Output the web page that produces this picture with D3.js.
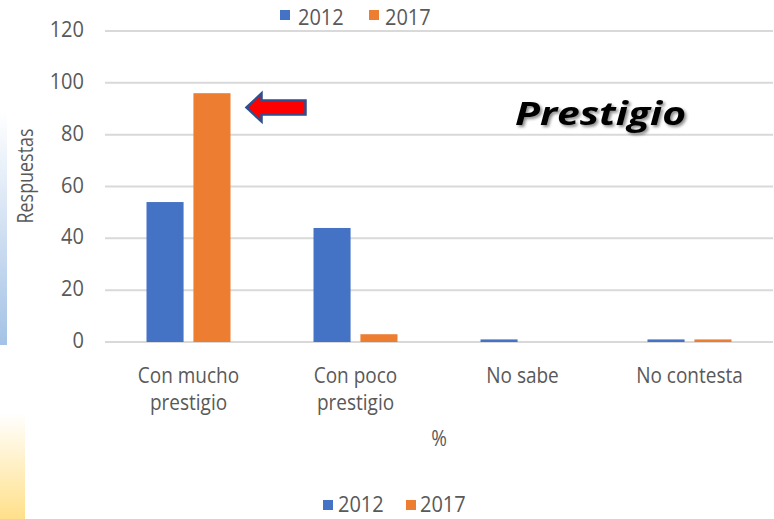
<!DOCTYPE html>
<html><head><meta charset="utf-8">
<script src="https://cdn.jsdelivr.net/npm/d3@7"></script>
<style>body{margin:0;background:#fff}svg{display:block}</style>
</head><body>
<svg id="c" width="774" height="519"></svg>
<script>
const categories = [["Con mucho","prestigio"],["Con poco","prestigio"],["No sabe"],["No contesta"]];
const series = ["2012","2017"];
const values2012 = [54, 44, 1, 1];
const values2017 = [96, 3, 0, 1];
const yTicks = [0,20,40,60,80,100,120];
const colors = ["#4472c4","#ed7d31"];

(function(){
const svg = d3.select("#c");
const defs = svg.append("defs");
const g1 = defs.append("linearGradient").attr("id","gb").attr("x1",0).attr("y1",0).attr("x2",0).attr("y2",1);
g1.append("stop").attr("offset","0%").attr("stop-color","#ffffff");
g1.append("stop").attr("offset","100%").attr("stop-color","#a4c2e6");
const g2 = defs.append("linearGradient").attr("id","gy").attr("x1",0).attr("y1",0).attr("x2",0).attr("y2",1);
g2.append("stop").attr("offset","0%").attr("stop-color","#ffffff");
g2.append("stop").attr("offset","100%").attr("stop-color","#ffe08a");
const f = defs.append("filter").attr("id","sh").attr("x","-10%").attr("y","-10%").attr("width","130%").attr("height","140%");
f.append("feDropShadow").attr("dx",2).attr("dy",2).attr("stdDeviation",1.5).attr("flood-color","#000").attr("flood-opacity",0.45);

svg.append("rect").attr("x",0).attr("y",112).attr("width",7).attr("height",233).attr("fill","url(#gb)");
svg.append("rect").attr("x",0).attr("y",413).attr("width",25).attr("height",106).attr("fill","url(#gy)");

const mLeft = 105, mRight = 773, mTop = 31, mBottom = 342;
const y = d3.scaleLinear().domain([0,120]).range([mBottom, mTop]);
const x0 = d3.scaleBand().domain(d3.range(categories.length)).range([mLeft, mRight]);
const bw = x0.bandwidth();
const x1 = d3.scaleBand().domain(series).range([bw/2-42, bw/2+42]).paddingInner(0.21);

const font = "'Open Sans', sans-serif";
const grey = "#595959";
svg.append("g").selectAll("line").data(yTicks).join("line")
  .attr("x1", mLeft).attr("x2", mRight)
  .attr("y1", d=>y(d)).attr("y2", d=>y(d))
  .attr("stroke", "#d9d9d9").attr("stroke-width", 2);
svg.append("g").selectAll("text").data(yTicks).join("text")
  .attr("transform", d=>`translate(84,${y(d)+6}) scale(1,1.1)`)
  .attr("text-anchor","end").attr("fill",grey)
  .style("font-family",font).style("font-size","20px").text(d=>d);

const data = categories.map((c,i)=>({i, vals:[values2012[i], values2017[i]]}));
const grp = svg.append("g").selectAll("g").data(data).join("g")
  .attr("transform", d=>`translate(${x0(d.i)},0)`);
grp.selectAll("rect").data(d=>d.vals.map((v,k)=>({v,k}))).join("rect")
  .attr("x", d=>x1(series[d.k])).attr("width", x1.bandwidth())
  .attr("y", d=>y(d.v)).attr("height", d=>y(0)-y(d.v))
  .attr("fill", d=>colors[d.k]);

const lines = [];
categories.forEach((c,i)=>c.forEach((t,j)=>lines.push({i,j,t})));
svg.append("g").selectAll("text").data(lines).join("text")
  .attr("text-anchor","middle").attr("fill",grey)
  .style("font-family",font).style("font-size","19px")
  .attr("transform",d=>`translate(${x0(d.i)+bw/2},${383 + d.j*26.5}) scale(1,1.1)`)
  .text(d=>d.t);

svg.append("text").attr("transform","translate(439,446) scale(1,1.12)").attr("text-anchor","middle").attr("fill",grey)
  .style("font-family",font).style("font-size","19px").text("%");
svg.append("text").attr("transform","translate(33,176) rotate(-90)").attr("text-anchor","middle").attr("fill",grey)
  .attr("textLength",95).attr("lengthAdjust","spacingAndGlyphs")
  .style("font-family",font).style("font-size","21px").text("Respuestas");

function legend(sqx, txx, sqy, base){
  const lg = svg.append("g");
  series.forEach((s,k)=>{
    lg.append("rect").attr("x",sqx[k]).attr("y",sqy).attr("width",10).attr("height",10).attr("fill",colors[k]);
    lg.append("text").attr("transform",`translate(${txx[k]},${base}) scale(1,1.1)`).attr("fill",grey)
      .style("font-family",font).style("font-size","20px").text(s);
  });
}
legend([280,369],[298,385],10,25);
legend([323,406],[338,420],500,512);

svg.append("text").attr("x",515).attr("y",125)
  .attr("textLength",171).attr("lengthAdjust","spacingAndGlyphs")
  .style("font-family",font).style("font-size","32px").style("font-weight","bold").style("font-style","italic")
  .attr("fill","#000").attr("filter","url(#sh)").text("Prestigio");

const ax = x0(0) + x1("2017") + x1.bandwidth() + 16;
const ay = y(90.5);
const arrow = d3.path();
arrow.moveTo(ax, ay);
arrow.lineTo(ax+15, ay-14);
arrow.lineTo(ax+15, ay-7);
arrow.lineTo(ax+59, ay-7);
arrow.lineTo(ax+59, ay+7);
arrow.lineTo(ax+15, ay+7);
arrow.lineTo(ax+15, ay+14);
arrow.closePath();
svg.append("path").attr("d", arrow.toString()).attr("fill","#ff0000").attr("stroke","#2f4f8f").attr("stroke-width",2.5).attr("stroke-linejoin","miter");
})();
</script>
</body></html>
